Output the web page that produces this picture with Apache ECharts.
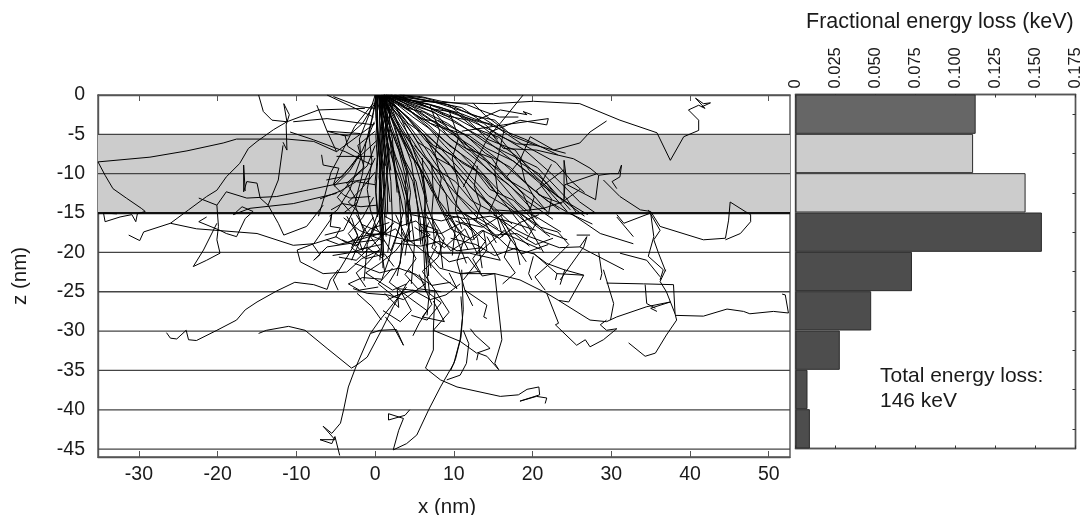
<!DOCTYPE html>
<html>
<head>
<meta charset="utf-8">
<title>Fractional energy loss</title>
<script src="https://cdn.jsdelivr.net/npm/echarts@6/dist/echarts.min.js"></script>
<style>
    html, body { margin: 0; padding: 0; background: #fff; }
    #chart { width: 1088px; height: 515px; }
</style>
</head>
<body>
<div id="chart"></div>
<script>
// tick labels
var xTicks = [-30, -20, -10, 0, 10, 20, 30, 40, 50];
var zTicks = [0, -5, -10, -15, -20, -25, -30, -35, -40, -45];
var zLayers = [-5, -10, -20, -25, -30, -35, -40, -45];
var interfaceDepth = -15;
var shadedLayer = [-5, -15];

// energy loss per 5 nm layer, top to bottom
var layerNames = ['0-5', '5-10', '10-15', '15-20', '20-25', '25-30', '30-35', '35-40', '40-45'];
var layerLoss = [0.1126, 0.111, 0.1438, 0.154, 0.0728, 0.0473, 0.0277, 0.0075, 0.009];
var layerFill = ['#666666', '#cccccc', '#cccccc', '#4d4d4d', '#4d4d4d', '#4d4d4d', '#4d4d4d', '#4d4d4d', '#4d4d4d'];

// electron tracks [x, z] in nm
var leftTracks = [
    [[0, -3.6], [-4.9, -7.2], [-7.8, -5.9], [-11.2, -5.6], [-17.6, -5.6], [-19.3, -6.1], [-23.9, -7.1], [-28.6, -7.9], [-35.2, -8.5], [-34.3, -10.2], [-33.3, -11.9], [-31.6, -13.1], [-29.7, -14.4], [-29.2, -14.8], [-30.2, -15.1], [-30.4, -16.1], [-30.9, -15.2], [-32.4, -15.5], [-34.3, -16.1], [-34.5, -15], [-32.8, -15.1]],
    [[-14.8, 0], [-14.2, -2.1], [-13.1, -3.2], [-11.2, -3.4], [-12.9, -4.4], [-15, -5.9], [-16.1, -6.8], [-17.2, -8.7], [-18.9, -10.4], [-20.1, -12.1], [-21.4, -12.9], [-23.7, -14.6], [-26, -16.3], [-29.4, -17.4], [-29.9, -18.5], [-31.3, -17.8]],
    [[-11.2, -3.4], [-11.6, -1.1], [-10.9, -2.5], [-11.3, -3.8], [-11.2, -7], [-11.7, -6]],
    [[-26, -16.3], [-22.7, -17], [-15, -17.6], [-10.4, -19.1], [-7.8, -18.9], [-4.9, -18]],
    [[-11.7, -6.4], [-12.3, -10.8], [-13.6, -14], [-14.6, -13.1], [-15, -11.2], [-16.3, -11], [-16.7, -12.3], [-16.7, -8.9], [-16.5, -12.2]],
    [[-13.6, -14], [-12.3, -16.3], [-11.6, -17.8], [-8.7, -16.7], [-6.6, -14]],
    [[-0.6, -10.6], [-5.3, -11.4], [-12.5, -12.9], [-16.3, -13.1], [-18.9, -12.3], [-20.1, -14], [-22.4, -13.1]],
    [[-20.1, -14], [-19.9, -16.7], [-20.1, -18.4], [-19.7, -20.1], [-21.4, -21], [-23.1, -21.8], [-21.8, -19.7], [-20.1, -16.3]],
    [[-4.9, -12.5], [-10.4, -13.8], [-15.9, -14.4], [-18, -15.2], [-16.9, -14.2], [-15.5, -14.8], [-16.5, -15.7], [-17.6, -18], [-18.9, -17.6], [-19.7, -17.2], [-22.4, -16.1], [-21.4, -15.5]],
    [[-6.8, -7.6], [-6.6, -8.9], [-4.6, -9.3], [-5.3, -11.4], [-4, -12.7], [-3.2, -13.1], [-0.6, -12.9]],
    [[-5.3, -11.4], [-3, -9], [-2, -7.5], [-3.5, -6.5], [-3.8, -5.2], [-6.1, -4.6], [-1.9, -4.9]],
    [[-11.2, -3.4], [-7.2, -1.9], [-1.3, -1.7]],
    [[-7.4, -1.3], [-6.1, -4.6], [-4.9, -7.2]],
    [[-6.1, 0], [-0.2, -2.8]],
    [[-5.3, -0.2], [-1.9, -1.5], [0, -1.7]],
    [[-10.4, -3.4], [-6.1, -3], [-0.2, -3.8]],
    [[-10.8, -4.7], [-7.8, -5.7], [-3.8, -7.2], [-0.4, -8.9]],
    [[-0.2, -7.8], [-4.9, -7.8]],
    [[-9.9, -19.7], [-9.5, -21.2], [-6.6, -22.7], [-3.6, -22.5], [-1.7, -20.8], [0.6, -19.7]],
    [[-9.9, -19.7], [-7.8, -18.9], [-5.7, -15.9], [-5.5, -15]],
    [[-8, -18.9], [-7, -20.3], [-7.8, -21], [-6.1, -19.3], [-2.8, -18.8], [0.2, -18.4], [2.3, -16.3]],
    [[-5.5, -15], [-5.7, -16.7], [-4.4, -16.9], [-5, -18], [-3.6, -18.8], [-1.9, -18], [0.6, -17.6]],
    [[-0.2, -15.5], [-2.8, -19.3], [-5.3, -23.5], [-4.7, -24.8]],
    [[-7, -20], [0.6, -19.9]],
    [[0, -1], [-1.6, -3.6], [-3.4, -5.2], [-4.4, -5]],
    [[0, -4.6], [-2.2, -6.4], [-1.4, -9.2], [-3.6, -11.2], [-2.2, -13.6], [-4, -15]],
    [[0, -6.4], [-1, -9], [-2.8, -10.6], [-4.8, -13], [-3.2, -14.8]],
    [[0, -9.8], [-1.8, -12], [-3.4, -13.6], [-1.8, -15.2]],
    [[0.2, -5.8], [-2.6, -8.4], [-4.2, -10.4], [-6.2, -10.8]],
    [[0, -11.4], [-2.4, -11], [-4.4, -12.2], [-7, -13.2]],
    [[0.2, -14], [-1.8, -14.2], [-4.2, -13.8], [-5.6, -14.6]]
];

var deepTracks = [
    [[-26.5, -30.2], [-26, -30.9], [-25.2, -31], [-24, -29.9], [-23.7, -31.1], [-22.7, -31.2], [-20.1, -29.9], [-17.6, -28.6], [-16.5, -27.3], [-15, -26.3], [-12.5, -24.9], [-10.2, -23.8], [-7.8, -24.1], [-6.1, -24.7], [-5.7, -23.5], [-4.7, -22.2]],
    [[-14.8, -30.3], [-13.8, -29.9], [-11, -29.4], [-8.9, -29.9], [-6.1, -32.2], [-3, -34.7], [-2.3, -34.3], [-1, -33.3], [0.8, -29.9], [2.3, -26.9], [4, -24], [4.4, -23.5]],
    [[-2.5, -34.7], [-3.4, -37.1], [-4, -40], [-4.4, -41.7], [-5.5, -43], [-6.6, -42.1], [-5.1, -43.8], [-7, -43.8], [-5.5, -44.3], [-5.1, -43.4], [-4.5, -45.8]],
    [[-2.5, -34.7], [-0.6, -30.3], [0.6, -28.6], [2.3, -26.5], [4, -24.4]],
    [[-0.6, -30.3], [0.6, -29.9], [2.7, -29.8], [3.6, -31.8], [2.3, -29.4], [1.3, -28.2]],
    [[-2.3, -25.2], [-0.4, -26.9], [0.8, -28.6]],
    [[2.3, -45.1], [3, -42.6], [3.6, -41.1], [1.7, -40.5], [1.7, -41.3], [3.8, -40.7], [4.4, -40]],
    [[2.3, -45.1], [4, -44.3], [5.3, -43.2], [6.8, -40], [8.3, -37.1], [10, -34.1], [10.8, -31.1], [11.2, -27.3], [11, -22.2]],
    [[9.6, -35], [10.2, -33.6], [10.9, -30.8], [11.1, -28.4], [10.9, -25.6]],
    [[6.4, -34.7], [7.4, -32.4], [7.4, -29.9], [7.6, -24.8]],
    [[6.4, -34.7], [8.3, -36.2], [10.4, -37.1], [15.9, -38.3], [18.2, -38.1], [19.3, -37.4], [20.8, -37.1], [20.9, -38.1], [18.4, -38.9], [20.5, -38.3], [21.8, -38.5], [21.6, -39.2]],
    [[9.1, -36.2], [10.8, -35.6], [11.6, -34.1], [11.9, -31.6], [11.2, -29.9]],
    [[15.2, -22.7], [16.1, -31.1], [15.2, -34.1], [15.7, -34.9]],
    [[7.4, -29.9], [10.8, -31.3], [12.9, -32.8], [14.6, -32.2], [12.7, -30.5], [12.1, -29.7]],
    [[12.9, -33.7], [13.1, -32.8], [14.2, -33.2], [15.7, -34.9]],
    [[11.4, -24.8], [14.2, -26.7], [13.8, -28.2], [14.2, -28.4]],
    [[10.8, -22.7], [15.2, -22.7], [18.4, -23.5], [21.8, -25.2], [23.3, -26.1], [27.3, -28.6], [29.4, -28.8], [30.7, -28.2], [34.5, -26.9], [37.5, -26.3], [35, -27.1], [35.8, -27.5]],
    [[23.3, -26.1], [24.6, -26.3], [26.5, -22.9], [23.1, -22.7]],
    [[21.8, -25.2], [23.3, -29], [22.9, -29.2], [25.6, -31.8], [26.7, -31.1], [27.3, -32], [29, -31.1], [30.7, -29.7], [29.4, -29.9], [28.6, -29.2], [29.4, -28.6]],
    [[29, -22.2], [30.3, -26.5], [29.9, -28.6]],
    [[38.1, -27.8], [38.3, -28.6], [37, -30.5], [35.6, -32.8], [34.3, -33.2], [32.2, -31.5]],
    [[38.1, -28], [41.7, -28.1], [44.7, -27.2], [46.8, -27.5], [47.6, -27.8], [50.6, -27.5], [52.5, -27.7], [52.1, -25.4], [51.7, -25.3]],
    [[29.4, -23.9], [34.1, -24], [37.9, -24.1], [38.1, -27.8], [37, -25], [36.2, -23.7], [36.9, -22.2]],
    [[34.3, -24.1], [34.5, -26.5], [35.6, -27.1]],
    [[20.3, -23.1], [21.6, -24.8]],
    [[24.1, -22.2], [23.5, -24.1]]
];

var rightTracks = [
    [[0.2, -0.2], [2.5, -0.5], [5.7, -0.8], [10, -1], [15, -1.1], [20.1, -0.8], [26, -1.1], [31.1, -3.2], [35.8, -4.8], [37.5, -8.3], [39.2, -5.3], [41.1, -4.5], [41.1, -3.2], [39.8, -1.9], [41.1, -1.3], [41.9, -1.7], [40.7, -0.4], [41.7, -1.1], [42.6, -1], [41.5, -1.5]],
    [[18.8, 0], [15.9, -3.6], [14.4, -5.3], [13.1, -7.8], [11.2, -11.7]],
    [[22, -3], [21.8, -3.8], [18.4, -3.2], [14.6, -4.7]],
    [[22, -3], [16.3, -3.8], [11, -4.6]],
    [[19.9, -2.5], [18.8, -2.1], [19.3, -2.5], [15.9, -1.9], [12.9, -3.2]],
    [[29.4, -3.3], [27.3, -4.7], [26, -6.1], [22.7, -7], [19.7, -5.3], [18.4, -8.3], [16.7, -10.4]],
    [[14.6, -4.7], [16.3, -6.8], [20.5, -7], [25.2, -8.1], [27.3, -9.3], [28.4, -10.2]],
    [[28.4, -10.2], [29.9, -10], [30.9, -10], [31.3, -8.9], [31.1, -10.4], [30.1, -11], [30.7, -11.9]],
    [[28.4, -10.2], [28, -13.3], [24.4, -11.4], [24, -8.3], [24, -13.3], [24.1, -11.4], [28.2, -10]],
    [[24, -9.5], [20.5, -12.1], [20.8, -12.7], [23.7, -13.8]],
    [[29, -10.8], [31.1, -12.9], [33.7, -14.6], [35, -14.8], [36.2, -16.7], [41.7, -18.4], [44.5, -18.2], [44.9, -15.9], [45.1, -13.6], [47, -14.8], [47.7, -15.2], [47.7, -16.1], [46.4, -17.6], [44.5, -18.4]],
    [[30.7, -15.2], [31.6, -16.3], [35, -15], [35.4, -18], [34.7, -20.5], [36.6, -22.2], [36.2, -23.5]],
    [[34.7, -14.6], [36.2, -17.2], [35.4, -18.4], [36, -20.1], [36.9, -22.4]],
    [[30.7, -15.5], [32.8, -18]],
    [[24.8, -15], [28.6, -17.6], [32.8, -18.9]],
    [[31.1, -20.1], [34.5, -21], [36.2, -23.1]],
    [[28.4, -20], [28.8, -22.7], [28.6, -23.5]],
    [[26, -19.3], [31.6, -22.2]],
    [[26.9, -18], [26.5, -19.3], [23.5, -23.5]],
    [[25.6, -17.8], [27.3, -17.8]],
    [[20.1, -20.5], [19.5, -22.7], [19.9, -23.5]],
    [[20.1, -20.1], [23.1, -22.7], [22.9, -23.5]],
    [[14.2, -18], [15.9, -21], [12, -20.1], [7.8, -20.1]],
    [[13.8, -17.2], [14.2, -19.7], [11.2, -23.5]]
];

var coreTracks = [
    [[0.3, 0], [0.2, -4], [0.6, -9], [0.5, -15], [0.8, -19]],
    [[0.6, 0], [0.5, -5], [0.9, -10], [0.7, -15], [1, -22]],
    [[0.8, 0], [0.9, -6], [0.6, -12], [1, -17], [0.6, -21]],
    [[1, 0], [0.8, -4], [1.2, -8], [1.1, -14], [1.4, -18]],
    [[0.2, 0], [0.4, -7], [0, -11], [0.3, -15.5]],
    [[0.5, 0], [1.1, -5], [1.5, -10], [1.6, -15]],
    [[1.2, 0], [1.4, -6], [2, -11], [2.2, -16], [1.6, -20]],
    [[0, 0], [0.1, -3], [0.5, -6], [0.2, -9]],
    [[1.5, 0], [1.2, -3], [1.7, -7], [1.3, -9]],
    [[1, 0], [1.6, -4], [2.2, -8], [3.1, -13], [3.4, -18]],
    [[0.8, 0], [1.8, -5], [2.8, -9], [4.4, -14], [5, -19], [4.6, -24]],
    [[0.6, 0], [1.5, -3], [3, -7], [4.8, -11], [5.6, -15], [6.2, -20], [6.4, -25]],
    [[1, 0], [2.4, -4], [3.6, -8], [5.2, -11], [6, -15], [6.6, -18], [6.8, -23]],
    [[1.1, 0], [2.2, -3.2], [3.4, -5.4], [5.8, -9.6], [6.4, -13], [6.1, -17], [7.1, -22]],
    [[0.9, 0], [2.6, -3], [4.6, -7.2], [5.6, -10.4], [6.8, -14.6], [8.2, -18.4], [8.6, -22]],
    [[0.7, 0], [3, -4], [4.4, -6], [6.6, -10.2], [8.4, -14.2], [10.2, -17.8], [11.6, -21.4]],
    [[1.3, 0], [3.2, -3.4], [5.4, -6.8], [7, -8.8], [9, -12.6], [9.4, -15], [11.8, -19.6]],
    [[1, 0], [3.8, -3.2], [6, -6.2], [8.4, -9.8], [10.4, -14], [13, -18.2], [13.6, -22]],
    [[1.2, 0], [4, -2.8], [6.6, -6], [9.2, -8.4], [11.4, -11.6], [13.2, -14.8], [15.4, -18.8]],
    [[0.9, 0], [4.4, -3], [7.2, -5.6], [10, -8.6], [12.6, -11.4], [15.4, -15.2], [16.2, -18]],
    [[1, 0], [4.6, -2.2], [7.8, -5], [10.8, -7.4], [14, -10.8], [16.8, -14.2], [19.4, -17.6]],
    [[1.4, 0], [5, -2.4], [8, -4.2], [11.6, -7.2], [14.8, -9.8], [18, -13.6], [20.6, -15.8]],
    [[1.1, 0], [5.2, -2], [8.6, -4.2], [12.4, -6.6], [15.4, -9.4], [19.2, -12.8], [21.6, -14.6]],
    [[1.2, 0], [5.6, -1.8], [9.2, -3.6], [13, -6.2], [16.4, -8.8], [19.8, -11.8], [23.4, -14.6]],
    [[1.6, 0], [6, -1.6], [9.6, -3.2], [13.6, -5.4], [17, -8], [21, -11], [24.4, -14.8]],
    [[1.4, 0], [6.4, -1.4], [10, -2.8], [14.4, -5.2], [18, -7.8], [21.8, -11.2], [24.8, -14.6]],
    [[1.2, 0], [6.8, -1.2], [10.6, -2.6], [15, -4.6], [19, -7], [22.4, -10], [26, -13.6], [28, -15]],
    [[2, 0], [7, -1.2], [11, -2.4], [15.6, -4.2], [18.6, -6.2], [23, -8.6], [25, -11], [26.6, -12.4]],
    [[1.6, 0], [7.2, -0.8], [11.6, -2.2], [13.8, -3], [16, -4.4], [19, -5.6], [23.2, -7.6]],
    [[2.4, 0], [6.2, -0.6], [11, -1.6], [13.6, -3.4], [15, -3.8]],
    [[2, 0], [5, -0.8], [8.4, -1.6], [12.8, -3.4], [14.6, -4.8], [15.6, -5.6]],
    [[1.4, 0], [4.8, -1], [8, -2], [10.6, -3.6], [14, -6], [16.4, -7.2], [20.6, -9.2], [24.2, -13], [25.6, -15]],
    [[1.6, 0], [4.6, -1.4], [7.2, -3.2], [10.4, -5], [12.8, -7.6], [16, -9.6], [18.8, -12.6], [20, -15.2], [23.6, -17.4]],
    [[1.2, 0], [4.2, -1.8], [6.8, -3.8], [9.4, -6.4], [12.2, -8.4], [15, -11.4], [18, -14.6], [19.4, -16.6], [21.4, -20]],
    [[0.8, 0], [3.4, -2.2], [5.6, -4.4], [8, -7.4], [10.6, -10], [12.8, -12.4], [16, -15.4], [17.8, -18.8], [18.4, -21.6]],
    [[0.9, 0], [2.8, -2.4], [4.8, -5], [6.4, -7.8], [8.6, -10.6], [11, -13.4], [13, -15.6], [16, -17.4], [21, -19.6]],
    [[0.7, 0], [2, -2.6], [3.6, -5.6], [5.2, -8.6], [7, -11.4], [8, -13.8], [9.6, -17], [12.4, -18.4], [13.8, -17.2]],
    [[0.6, 0], [1.6, -2.6], [2.8, -6], [4, -9.8], [3.8, -12], [4.6, -15.6], [3.6, -19], [2.8, -23]],
    [[0.5, 0], [1.2, -3], [2.2, -7], [2.8, -11], [3.6, -14.8], [2.6, -18.4], [0.8, -23.6]],
    [[0.4, 0], [0.9, -4], [1.6, -9], [1.2, -12.6], [0, -16], [-1, -19], [-1.4, -23.6]],
    [[0, 0], [-0.8, -2.6], [-2, -5.6], [-1.8, -8], [-3.2, -12], [-4.8, -14.6], [-5.8, -15.4]],
    [[0.2, 0], [-0.4, -3], [-1.2, -6.2], [-1.6, -10], [-2.6, -13.8], [-1.4, -17.4], [-3, -21]],
    [[0.1, 0], [-0.2, -2.2], [-0.8, -5], [-0.4, -8.4], [-1, -12], [-0.6, -14.6], [0.2, -17]],
    [[-0.2, -1], [-2.6, -4], [-4.2, -7.2], [-5.6, -9.8], [-6.4, -12.8], [-7.2, -15.4]],
    [[-0.1, -3.4], [-1.6, -7], [-3.2, -9.6], [-5.2, -11.6]],
    [[0, -8], [-1.2, -10.6], [-2.4, -14], [-4, -17.2], [-6.4, -17.8]],
    [[-0.2, -13], [-1.6, -15.6], [-3.4, -17.6], [-2, -19.6], [0.8, -19]],
    [[1.2, -15.4], [3.4, -16.6], [5.2, -16], [7, -17.8], [4.6, -18.6], [1, -17.6], [-1.8, -16.4]],
    [[6.2, -14.6], [7.4, -17], [9.6, -19.8], [11.2, -18.8], [13.6, -17.2], [15.8, -18.2], [18.4, -16.2], [20.8, -15.2]],
    [[2.6, -15.2], [4, -18.2], [6.8, -20.4], [8.2, -22], [10.8, -22.7], [13.4, -22.4]],
    [[4.6, -17.2], [2.6, -19.8], [0.6, -21.4], [-1.2, -22.6], [2.2, -24.8], [4, -24]],
    [[7.2, -15.6], [8.8, -18.2], [8, -20.6], [6, -22.4], [7.6, -24.8], [9.4, -27.6], [7.4, -29.9]],
    [[9, -15.2], [11.4, -18], [10.4, -21.2], [11.4, -24.8], [12.4, -26.8]],
    [[10.4, -14.6], [14, -16.6], [17, -19.4], [20.2, -20.2], [21.8, -21.4], [24, -22.2], [26.5, -22.9]],
    [[15, -15.2], [18, -17.2], [19.6, -18], [23.4, -19.4], [26, -19.3], [26.9, -18]],
    [[18.4, -15], [21, -16.8], [23.2, -17.4], [24.6, -19], [22.2, -21.4], [20.3, -23.1]],
    [[4.2, -22.2], [6.4, -24], [3.6, -26], [1.6, -25.4], [-1, -25.2], [-2.8, -24.6]],
    [[3.4, -18.4], [3.2, -21.4], [1.8, -23.8], [4.4, -25.8], [6.6, -27.4], [5.6, -29], [4.8, -30.6]],
    [[-2.6, -21.4], [0.6, -22.6], [3, -22], [5.2, -22.8], [7.2, -24.2], [9.6, -23.8]],
    [[1.2, -25.2], [3, -27], [2.8, -24.6], [6.6, -25], [8.4, -26.4], [6.6, -28.6], [4.6, -28]]
];

// the black wedge under the entry point and the second trunk near x = 4
var trunkTracks = [
    [[0.1, 0], [0.3, -2.4], [0.1, -5.2], [0.3, -8.6], [0.1, -12.4], [0.4, -15.2]],
    [[0.4, 0], [0.2, -2.8], [0.5, -6.4], [0.7, -11], [0.5, -14.6], [0.9, -17.8]],
    [[0.7, 0], [0.6, -3.2], [0.9, -7], [0.5, -10.4], [0.9, -13.8], [0.7, -16.4]],
    [[1, 0], [0.9, -2.6], [0.6, -5], [0.8, -8.4], [1.1, -12], [0.9, -15.4], [1.1, -20.6]],
    [[1.3, 0], [1, -3], [1.2, -5.4], [0.9, -8], [1.2, -11.6], [1.4, -15.6]],
    [[1.6, 0], [1.4, -2.2], [0.9, -4.4], [1.3, -6.8], [1, -9.4]],
    [[1.9, 0], [1.6, -2.4], [1.4, -4.6], [1.8, -7.4], [1.5, -10.2], [1.9, -13.6]],
    [[2.2, 0], [1.8, -2], [1.9, -4.2], [1.5, -6.2], [2, -9.6]],
    [[2.5, 0], [2.1, -1.8], [1.7, -3.4], [2.2, -5.6], [2.4, -8.2], [2.8, -12.4]],
    [[0.2, 0], [0.5, -1.8], [1, -3.6], [1.5, -5.8], [2.5, -9.2], [3.2, -11], [3.8, -13.4], [4, -16.6]],
    [[0.5, 0], [0.9, -2.2], [1.7, -4.8], [2.6, -7.8], [3.4, -9.8], [4, -12], [4.2, -15], [4.4, -18.4]],
    [[0.8, 0], [1.3, -2], [2, -4.4], [3, -7], [3.6, -9.4], [4.2, -11.8], [3.9, -14.6], [4.3, -17.2], [3.8, -20.4]],
    [[1.1, 0], [1.7, -1.8], [2.5, -4], [3.2, -6.4], [4, -9.2], [4.5, -12.4], [4.1, -15.6]],
    [[1.4, 0], [2.1, -1.6], [2.8, -3.4], [3.6, -5.8], [4.6, -8.6], [5, -11.2], [5.4, -14.4], [5.8, -19]],
    [[1.7, 0], [2.6, -1.4], [3.4, -3.2], [4.4, -5.6], [5.2, -8], [6.2, -11], [6.6, -13.6]],
    [[6, -8], [6.2, -11.4], [6.4, -14.8], [6.2, -18], [6.5, -21.4]],
    [[7.2, -9], [7.4, -12.6], [7.2, -15], [7.6, -19.2]],
    [[6.4, -15.4], [6.7, -18.6], [6.5, -21.8], [6.9, -25], [6.6, -28]],
    [[0.9, -14.6], [1.1, -17.4], [0.8, -19.6], [1.2, -22.4]]
];

// shallow fan, dense between the entry point and the x = 20 corner of the band
var fanTracks = [
    [[2, 0], [5, -1.4], [7.6, -2.2], [9.4, -4.4], [12, -5.2], [14.2, -6.8], [17.6, -8.4], [21.4, -11.6], [24, -13.4]],
    [[1.8, 0], [4.4, -0.6], [7.4, -1.8], [10.2, -2.2], [12.6, -4.2], [15.8, -5.4], [18.4, -8.6], [20.8, -10], [23, -12.8], [27, -15.2]],
    [[2.6, 0], [5.6, -1], [8.8, -2.6], [11.8, -3.2], [14.2, -5.6], [17.8, -7], [19.6, -9.6], [22.6, -12.4], [26.6, -15.4]],
    [[3, 0], [6.4, -0.4], [9.8, -1.4], [12.4, -2.6], [15.2, -3.2], [17.4, -5.2], [20.4, -6.4], [24.2, -7.4]],
    [[1.4, 0], [3.8, -1.6], [6.2, -2.2], [8.8, -3.8], [10.8, -5.8], [13.6, -7.8], [15.8, -10.4], [19.2, -13.4], [22.6, -15.8]],
    [[1.2, 0], [3.4, -1.2], [5.8, -3], [7.8, -3.4], [9.6, -5.6], [12.2, -7.2], [14.4, -9.6], [17, -11.4], [19.8, -14.4]],
    [[1, 0], [2.8, -1.2], [4.8, -2.8], [6.8, -4.2], [8.8, -6.4], [11, -8.6], [13.8, -10.2], [15.8, -13], [18.6, -15.2], [22.2, -18]],
    [[1.2, 0], [3, -1.8], [5, -3.8], [7.4, -6.4], [9.8, -7.6], [11.8, -10], [14.4, -12.8], [17.4, -14.6], [20, -17]],
    [[1, 0], [2.6, -1.6], [4.2, -3.6], [6.2, -5], [7.8, -8], [10, -9.2], [12.2, -11.8], [15, -14.2], [17.4, -16.4]],
    [[0.8, 0], [2.2, -1.8], [3.6, -3.2], [5.4, -6], [7, -7], [8.8, -9.4], [10.4, -12.6], [12.6, -14.6], [15.6, -17]],
    [[0.9, 0], [2, -2], [3.4, -4.2], [4.6, -6.2], [6.4, -8.8], [7.8, -11], [9.8, -13.6], [11.8, -15.6], [12.6, -18.4]],
    [[0.7, 0], [1.8, -2.4], [3, -4.8], [4.2, -7.4], [5.6, -9], [7.2, -12.2], [9, -14.6], [10.2, -16.8], [9.8, -20.4]],
    [[3.2, 0], [5.8, -0.2], [8.4, -0.8], [11.6, -1.2], [13.6, -2], [15.8, -2.8], [18.2, -2.8]],
    [[3.6, 0], [6.6, -0.8], [9.2, -1.2], [11.4, -2.8], [13.8, -3.6], [15.4, -5], [18, -6.2], [20.6, -6.4]],
    [[2.2, 0], [4.8, -1.8], [7, -3.6], [9.8, -4.6], [11.6, -6.8], [14.8, -8], [16.6, -10.6], [20, -12.6], [22, -15]],
    [[8, -3.2], [11.4, -5], [14, -7.4], [17.2, -9.2], [19.4, -11.4], [21.8, -13.4], [24.6, -15], [27.6, -16.4]],
    [[6.4, -5], [9, -7.2], [12.6, -9.4], [14.6, -12], [17.6, -13.4], [19, -14.8], [21.6, -17.4], [24.4, -18.4]],
    [[5, -6.4], [7.4, -9.2], [10.2, -11], [12.2, -13.4], [14.8, -14.8], [17, -17], [19.6, -19.2]],
    [[12.4, -1], [14, -2.6], [16.4, -4.4], [15.8, -7], [15.2, -9.6], [15.6, -12.4], [14.4, -15]],
    [[9.4, -2], [10.6, -5.4], [9.8, -8], [10.6, -11.4], [10.2, -14.6], [11, -17]],
    [[7, -1.4], [8.2, -4.6], [7.6, -7.4], [8.4, -10.6], [8, -13.4]],
    [[18.4, -8.2], [19, -10.8], [20.2, -13], [19.6, -14.8], [20.4, -16.4], [19.2, -18.4]],
    [[13, -9], [12.6, -11.6], [13.4, -14], [12.8, -16]],
    [[22.4, -8.8], [21, -11.4], [22.4, -13.2], [22, -15.2]],
    [[26, -12], [23.8, -13.6], [21.4, -14.4], [18, -14.8], [15.2, -14.6]],
    [[19, -15], [22, -15], [25, -15.1], [27.8, -15]]
];

// tangle below the interface, x from -5 to 25
var tangleTracks = [
    [[-2.4, -15.2], [-1, -17.6], [1, -17.8], [2.6, -17], [3.8, -18.6], [6, -18.4], [6.8, -16.2]],
    [[-3.6, -15.4], [-2.2, -17.8], [-3, -19.4], [-1.2, -20.8], [1.2, -20.2], [2.4, -21.8]],
    [[0.8, -15.4], [-0.6, -18], [0.6, -19.6], [-1, -21.4], [-2.4, -22.6], [-1.2, -24.4]],
    [[1.4, -17.4], [-1.4, -18.2], [-4.6, -19], [-6.2, -18.4]],
    [[1.2, -18.6], [-2, -17.2], [-4, -15.6]],
    [[2.4, -18.8], [5.8, -19.2], [8.2, -18.6], [10.4, -19.8], [13.6, -19.4]],
    [[3.4, -17.4], [5.2, -20.8], [3.8, -22.8], [5.4, -24.6], [8.4, -25]],
    [[5.8, -16.4], [8, -17.2], [7.2, -19.4], [9.4, -21.2], [11.8, -20.6], [13.4, -22.8]],
    [[7.8, -19.2], [6.8, -21.2], [8.6, -23.2], [10.4, -24.6], [9.4, -22.6]],
    [[10.2, -16], [12.2, -16.8], [14, -18.6], [12.4, -20.8], [13.6, -23], [15.2, -22.7]],
    [[15.6, -15.4], [17.2, -18.4], [16.4, -20.6], [17.8, -22.6], [16.2, -24]],
    [[11.6, -15.2], [15.2, -17.8], [18, -17.6], [20.4, -19], [22.6, -18.2]],
    [[8.6, -15.2], [12, -15.8], [14.6, -15.4], [17.4, -16.2], [20.4, -17.2]],
    [[4.6, -15.2], [8.4, -16], [10.6, -15.4], [12.2, -17.2]],
    [[2.2, -22], [0.4, -24], [2.4, -25.6], [4.8, -24.8], [7, -26], [9, -25.4], [10.8, -24]],
    [[0.4, -24.4], [-2, -24.8], [-3.4, -24], [-1.6, -23.2], [0.8, -23.4]],
    [[1.6, -26], [3.4, -25.2], [4.6, -27.4], [3.2, -28.8], [1, -27.4]],
    [[5.6, -22.8], [7.2, -26.6], [6, -28.2], [8.8, -28.8], [7.4, -26.2]],
    [[-5.4, -20.4], [-3, -20], [-1, -19.4], [1, -20.8]],
    [[-4.2, -18.4], [-2.4, -19.2], [-0.6, -17], [1.8, -16.2]],
    [[-3, -15.6], [-1.6, -19.8], [0, -16.6], [2, -19.8], [3.4, -16]],
    [[5, -16.8], [8.8, -19.4], [11.4, -17], [13, -20.2], [16.4, -17.2], [18.6, -20.2], [22, -19]],
    [[9.6, -18.2], [12.8, -19], [15.2, -20.4], [18, -19.4], [19.2, -21.2]],
    [[2.4, -16.2], [0.2, -18.6], [-2.4, -21], [-4.6, -20.6]],
    [[16.2, -15.2], [13.6, -16.8], [11, -16.2], [8.4, -17.6], [5.6, -17.2]]
];

var allTracks = leftTracks.concat(deepTracks, rightTracks, coreTracks, trunkTracks, fanTracks, tangleTracks);
var xRange = [-35.2, 52.7];
var zRange = [-46, 0];

var textFont = '"Liberation Sans", Arial, sans-serif';
var textColor = '#1a1a1a';

var myChart = echarts.init(document.getElementById('chart'));

var series = [];

// 灰色层
series.push({
    type: 'line',
    xAxisIndex: 0,
    yAxisIndex: 0,
    data: [],
    silent: true,
    z: 1,
    markArea: {
        silent: true,
        itemStyle: {color: '#cccccc'},
        data: [[{coord: [xRange[0], shadedLayer[0]]}, {coord: [xRange[1], shadedLayer[1]]}]]
    }
});

// layer lines
zLayers.forEach(function (depth) {
    series.push({
        type: 'line',
        xAxisIndex: 0,
        yAxisIndex: 0,
        data: [[xRange[0], depth], [xRange[1], depth]],
        showSymbol: false,
        silent: true,
        z: 2,
        lineStyle: {color: '#444444', width: 1.3}
    });
});
series.push({
    type: 'line',
    xAxisIndex: 0,
    yAxisIndex: 0,
    data: [[xRange[0], interfaceDepth], [xRange[1], interfaceDepth]],
    showSymbol: false,
    silent: true,
    z: 2,
    lineStyle: {color: '#111111', width: 2.2}
});

allTracks.forEach(function (track) {
    series.push({
        type: 'line',
        xAxisIndex: 0,
        yAxisIndex: 0,
        data: track,
        showSymbol: false,
        silent: true,
        clip: true,
        z: 3,
        lineStyle: {color: '#000000', width: 1}
    });
});

series.push({
    type: 'bar',
    xAxisIndex: 2,
    yAxisIndex: 1,
    barWidth: '100%',
    silent: true,
    z: 3,
    data: layerLoss.map(function (v, i) {
        return {value: v, itemStyle: {color: layerFill[i], borderColor: '#2a2a2a', borderWidth: 1}};
    })
});

var frame = {show: true, onZero: false, lineStyle: {color: '#555555', width: 1.4}};

var option = {
    animation: false,
    backgroundColor: '#ffffff',
    textStyle: {fontFamily: textFont},
    title: {
        text: 'Fractional energy loss (keV)',
        left: 806,
        top: 11,
        padding: 0,
        textStyle: {fontFamily: textFont, fontSize: 21.5, fontWeight: 'normal', color: textColor}
    },
    grid: [
        {left: 98, right: 298, top: 95, bottom: 58, show: true, outerBoundsMode: 'none', borderColor: '#555555', borderWidth: 1.4, backgroundColor: '#ffffff'},
        {left: 795.5, right: 12.5, top: 94.5, bottom: 66.5, show: true, outerBoundsMode: 'none', borderColor: '#555555', borderWidth: 1.4, backgroundColor: '#ffffff'}
    ],
    xAxis: [
        {
            type: 'value',
            gridIndex: 0,
            position: 'bottom',
            min: xRange[0],
            max: xRange[1],
            name: 'x (nm)',
            nameLocation: 'middle',
            nameGap: 40,
            nameTextStyle: {fontSize: 20.5, color: textColor, fontFamily: textFont, padding: [0, 0, 0, 6]},
            axisLine: frame,
            axisTick: {show: true, inside: true, length: 6, customValues: xTicks, lineStyle: {color: '#555555', width: 1}},
            axisLabel: {customValues: xTicks, margin: 8, fontSize: 19.5, color: textColor, fontFamily: textFont},
            splitLine: {show: false}
        },
        {
            type: 'value',
            gridIndex: 0,
            position: 'top',
            min: xRange[0],
            max: xRange[1],
            axisLine: frame,
            axisTick: {show: true, inside: true, length: 6, customValues: xTicks, lineStyle: {color: '#555555', width: 1}},
            axisLabel: {show: false},
            splitLine: {show: false}
        },
        {
            type: 'value',
            gridIndex: 1,
            position: 'top',
            min: 0,
            max: 0.175,
            interval: 0.025,
            axisLine: frame,
            axisTick: {show: true, inside: true, length: 3, lineStyle: {color: '#333333', width: 1}},
            axisLabel: {
                rotate: -90,
                margin: 6,
                fontSize: 16.5,
                color: textColor,
                fontFamily: textFont,
                formatter: function (v) {
                    return v === 0 ? '0' : v.toFixed(3);
                }
            },
            splitLine: {show: false}
        },
        {
            type: 'value',
            gridIndex: 1,
            position: 'bottom',
            min: 0,
            max: 0.175,
            interval: 0.025,
            axisLine: frame,
            axisTick: {show: true, inside: true, length: 3, lineStyle: {color: '#333333', width: 1}},
            axisLabel: {show: false},
            splitLine: {show: false}
        }
    ],
    yAxis: [
        {
            type: 'value',
            gridIndex: 0,
            min: zRange[0],
            max: zRange[1],
            name: 'z (nm)',
            nameLocation: 'middle',
            nameRotate: 90,
            nameGap: 67,
            nameTextStyle: {fontSize: 20.5, color: textColor, fontFamily: textFont},
            axisLine: frame,
            axisTick: {show: false},
            axisLabel: {customValues: zTicks, margin: 13, fontSize: 19.5, color: textColor, fontFamily: textFont},
            splitLine: {show: false}
        },
        {
            type: 'category',
            gridIndex: 1,
            position: 'right',
            inverse: true,
            data: layerNames,
            axisLine: frame,
            axisTick: {show: true, inside: true, length: 3, alignWithLabel: true, lineStyle: {color: '#333333', width: 1}},
            axisLabel: {show: false},
            splitLine: {show: false}
        }
    ],
    graphic: [
        {
            type: 'text',
            left: 880,
            top: 364,
            style: {
                text: 'Total energy loss:\n146 keV',
                fontFamily: textFont,
                fontSize: 21,
                lineHeight: 25,
                fill: textColor
            }
        }
    ],
    series: series
};

myChart.setOption(option);
</script>
</body>
</html>
